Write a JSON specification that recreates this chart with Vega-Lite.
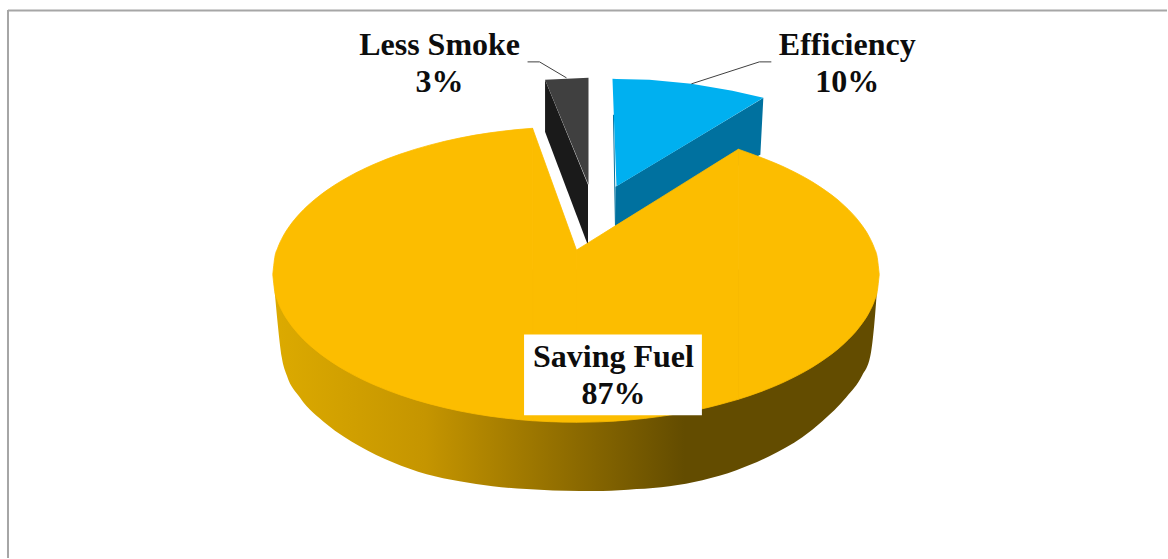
{
  "$schema": "https://vega.github.io/schema/vega-lite/v6.json",
  "width": 1168,
  "height": 559,
  "padding": 0,
  "autosize": {"type": "fit", "contains": "padding"},
  "background": "white",
  "config": {"view": {"stroke": null}},
  "datasets": {
    "goldSide": [
      {"x":275,"y":270,"y2":293},{"x":278,"y":270,"y2":325},{"x":282,"y":270,"y2":358},{"x":287,"y":270,"y2":376},
      {"x":300,"y":270,"y2":398},{"x":327,"y":270,"y2":425},{"x":360,"y":270,"y2":447},{"x":393,"y":270,"y2":463},
      {"x":427,"y":270,"y2":475},{"x":460,"y":270,"y2":482},{"x":493,"y":270,"y2":487},{"x":527,"y":270,"y2":490},
      {"x":580,"y":270,"y2":492},{"x":603,"y":270,"y2":492},{"x":637,"y":270,"y2":490},{"x":670,"y":270,"y2":487},
      {"x":703,"y":270,"y2":481},{"x":737,"y":270,"y2":471},{"x":770,"y":270,"y2":457},{"x":803,"y":270,"y2":438},
      {"x":823,"y":270,"y2":422},{"x":847,"y":270,"y2":398},{"x":863,"y":270,"y2":376},{"x":871,"y":270,"y2":357},
      {"x":875,"y":270,"y2":325},{"x":878,"y":270,"y2":287}
    ],
    "goldTop": [
      {"piece":"left","x":273,"y":275,"y2":275},{"piece":"left","x":275,"y":258,"y2":292},{"piece":"left","x":278,"y":248.3,"y2":301.7},{"piece":"left","x":283,"y":237.3,"y2":312.7},
      {"piece":"left","x":290,"y":226.2,"y2":323.8},{"piece":"left","x":300,"y":214,"y2":336},{"piece":"left","x":315,"y":199.9,"y2":350.1},{"piece":"left","x":330,"y":188.7,"y2":361.3},
      {"piece":"left","x":350,"y":176.5,"y2":373.5},{"piece":"left","x":375,"y":164.3,"y2":385.7},{"piece":"left","x":400,"y":154.6,"y2":395.4},{"piece":"left","x":430,"y":145.4,"y2":404.6},
      {"piece":"left","x":460,"y":138.3,"y2":411.7},{"piece":"left","x":490,"y":133.1,"y2":416.9},{"piece":"left","x":520,"y":129.6,"y2":420.4},{"piece":"left","x":533,"y":128.5,"y2":421.5},
      {"piece":"cutA","x":533,"y":128.5,"y2":421.5},{"piece":"cutA","x":550,"y":175.6,"y2":422.4},{"piece":"cutA","x":577,"y":250.5,"y2":423},
      {"piece":"cutB","x":577,"y":250.5,"y2":423},{"piece":"cutB","x":600,"y":236.2,"y2":422.6},{"piece":"cutB","x":630,"y":217.5,"y2":420.7},
      {"piece":"cutB","x":660,"y":198.8,"y2":417.3},{"piece":"cutB","x":700,"y":173.8,"y2":410.2},{"piece":"cutB","x":739,"y":149.5,"y2":400},
      {"piece":"right","x":739,"y":149.5,"y2":400},{"piece":"right","x":760,"y":157.1,"y2":392.9},
      {"piece":"right","x":790,"y":169.8,"y2":380.2},{"piece":"right","x":820,"y":186.7,"y2":363.3},{"piece":"right","x":845,"y":206,"y2":344},{"piece":"right","x":860,"y":222.2,"y2":327.8},
      {"piece":"right","x":870,"y":237.3,"y2":312.7},{"piece":"right","x":875,"y":248.3,"y2":301.7},{"piece":"right","x":878,"y":258,"y2":292},{"piece":"right","x":880,"y":275,"y2":275}
    ],
    "blueSide": [
      {"x":616,"y":187,"y2":227},{"x":761,"y":100,"y2":155},{"x":764,"y":98,"y2":98}
    ],
    "blueTop": [
      {"x":613,"y":79,"y2":79},{"x":617,"y":79.2,"y2":186.5},{"x":650,"y":80,"y2":166.7},
      {"x":692,"y":84,"y2":141.4},{"x":733,"y":91,"y2":116.7},{"x":764,"y":98,"y2":98}
    ],
    "smokeSide": [
      {"x":545.5,"y":80,"y2":132},{"x":588.5,"y":185,"y2":246}
    ],
    "smokeTop": [
      {"x":545.5,"y":80,"y2":80},{"x":589,"y":78,"y2":185}
    ],
    "leaders": [
      {"slice":"Less Smoke","x":528,"y":62},{"slice":"Less Smoke","x":540,"y":62},{"slice":"Less Smoke","x":567,"y":78},
      {"slice":"Efficiency","x":772,"y":62},{"slice":"Efficiency","x":760,"y":62},{"slice":"Efficiency","x":692,"y":84}
    ],
    "blueEdge": [
      {"x":614,"y":115},{"x":616,"y":227}
    ],
    "frame": [
      {"x":8,"x2":1168,"y":10.5,"y2":10.5},
      {"x":8,"x2":8,"y":10,"y2":559}
    ],
    "labels": [
      {"slice":"Less Smoke","share":3,"label":"Less Smoke\n3%","x":440,"y":45},
      {"slice":"Efficiency","share":10,"label":"Efficiency\n10%","x":848,"y":45},
      {"slice":"Saving Fuel","share":87,"label":"Saving Fuel\n87%","x":614,"y":358}
    ],
    "labelBox": [
      {"x":524.5,"x2":702.5,"y":335,"y2":416}
    ]
  },
  "encoding": {
    "x": {"field":"x","type":"quantitative","axis":null,"scale":{"domain":[0,1168],"nice":false,"zero":false}},
    "y": {"field":"y","type":"quantitative","axis":null,"scale":{"domain":[559,0],"nice":false,"zero":false}}
  },
  "layer": [
    {"data":{"name":"frame"},"mark":{"type":"rule","color":"#a6a6a6","strokeWidth":2},
     "encoding":{"x2":{"field":"x2"},"y2":{"field":"y2"}}},
    {"data":{"name":"smokeSide"},"mark":{"type":"area","color":"#1a1a1a"},"encoding":{"y2":{"field":"y2"}}},
    {"data":{"name":"smokeTop"},"mark":{"type":"area","color":"#404040"},"encoding":{"y2":{"field":"y2"}}},
    {"data":{"name":"blueSide"},"mark":{"type":"area","color":"#00719f"},"encoding":{"y2":{"field":"y2"}}},
    {"data":{"name":"blueEdge"},"mark":{"type":"line","color":"#00719f","strokeWidth":1},"encoding":{}},
    {"data":{"name":"blueTop"},"mark":{"type":"area","color":"#00b0f0"},"encoding":{"y2":{"field":"y2"}}},
    {"data":{"name":"leaders"},"mark":{"type":"line","color":"#404040","strokeWidth":1},
     "encoding":{"detail":{"field":"slice"},"order":{"value":null}}},
    {"data":{"name":"goldSide"},
     "mark":{"type":"area","interpolate":"monotone","color":{"gradient":"linear","x1":0,"y1":0,"x2":1,"y2":0,
       "stops":[{"offset":0,"color":"#dcaa00"},{"offset":0.25,"color":"#c59500"},{"offset":0.5,"color":"#8c6a00"},{"offset":0.68,"color":"#634c00"},{"offset":1,"color":"#634c00"}]}},
     "encoding":{"y2":{"field":"y2"}}},
    {"data":{"name":"goldTop"},"mark":{"type":"area","color":"#fcbd00","stroke":"#fcbd00","strokeWidth":0.8,"interpolate":"monotone"},
     "encoding":{"y2":{"field":"y2"},"detail":{"field":"piece"}}},
    {"data":{"name":"labelBox"},"mark":{"type":"rect","color":"white"},
     "encoding":{"x2":{"field":"x2"},"y2":{"field":"y2"}}},
    {"data":{"name":"labels"},
     "mark":{"type":"text","font":"Liberation Serif","fontWeight":"bold","fontSize":32,"lineBreak":"\n","lineHeight":37,"align":"center","baseline":"middle","color":"#0d0d0d"},
     "encoding":{"text":{"field":"label"}}}
  ]
}
